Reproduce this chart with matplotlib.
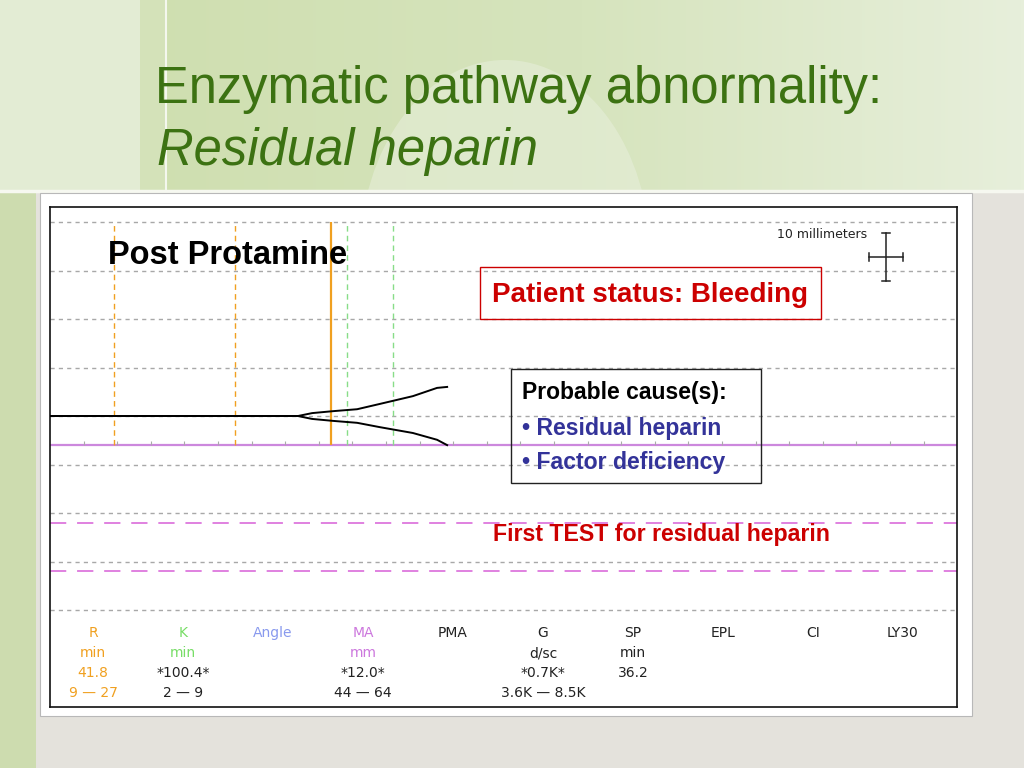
"""TEG tracing slide: residual heparin after protamine."""
import matplotlib
matplotlib.use('Agg')
import matplotlib.pyplot as plt
import matplotlib.patches as mpatches
from matplotlib.colors import LinearSegmentedColormap
import numpy as np

# ── data (time in min, amplitude in mm) ──────
TRACE_T     = [0.0, 36.9, 39.0, 42.1, 45.7, 49.1, 54.0, 57.6, 59.1]
TRACE_UPPER = [0.0, 0.0, 0.6, 1.0, 1.4, 2.5, 4.1, 5.8, 6.0]
TRACE_LOWER = [0.0, 0.0, -0.6, -1.0, -1.4, -2.3, -3.5, -4.9, -6.0]

R_VALUE   = 41.8
R_RANGE   = [9.5, 27.5]        # dashed orange markers
K_MARKS   = [44.2, 51.0]       # dashed green markers
MA_LINE   = -6.0               # solid violet line (MA / 2)
MA_RANGE  = [-22.0, -32.0]     # dashed pink (44-64 mm / 2)
GRID_MM   = [40, 30, 20, 10, 0, -10, -20, -30, -40]
TICK_MIN  = list(range(5, 135, 5))

PARAMS = ['R', 'K', 'Angle', 'MA', 'PMA', 'G', 'SP', 'EPL', 'CI', 'LY30']
UNITS  = ['min', 'min', '', 'mm', '', 'd/sc', 'min', '', '', '']
VALUES = ['41.8', '*100.4*', '', '*12.0*', '', '*0.7K*', '36.2', '', '', '']
RANGES = ['9 \u2014 27', '2 \u2014 9', '', '44 \u2014 64', '', '3.6K \u2014 8.5K', '', '', '', '']
PARAM_COLORS = ['#f0a020', '#77dd66', '#8899ee', '#cc77dd'] + ['#222222'] * 6
VALUE_COLORS = ['#f0a020'] + ['#222222'] * 9

# ── styles ────────────────────────────────────────────────────────
W, H = 1024, 768
GREEN_TITLE = '#3c7212'
RED = '#cc0000'
NAVY = '#333399'
SANS = ['Liberation Sans', 'DejaVu Sans']

fig = plt.figure(figsize=(W / 100, H / 100), dpi=100)

# background layer in pixel coordinates (y down)
bg = fig.add_axes([0, 0, 1, 1])
bg.set_xlim(0, W)
bg.set_ylim(H, 0)
bg.axis('off')

grad = np.linspace(0, 1, 256)[None, :]
bg.imshow(grad, extent=(140, W, 190, 0), aspect='auto', zorder=0,
          cmap=LinearSegmentedColormap.from_list('hdr', ['#cfdfb0', '#d6e4bd', '#e7efdb']))
bg.add_patch(mpatches.Ellipse((505, 255), 290, 390, color='#e8efdc', alpha=0.55, lw=0, zorder=1))
bg.add_patch(mpatches.Rectangle((0, 0), 140, 190, color='#e3ecd4', lw=0, zorder=1))
bg.add_patch(mpatches.Rectangle((140, 0), 26, 190, color='#d4e2b9', lw=0, zorder=1))
bg.plot([166, 166], [0, 190], color='#f4f7ee', lw=1.5, zorder=2)
bg.add_patch(mpatches.Rectangle((0, 190), W, H - 190, color='#e4e2dc', lw=0, zorder=1))
bg.add_patch(mpatches.Rectangle((0, 193), 36, H - 193, color='#cddcaf', lw=0, zorder=2))
bg.plot([0, W], [191, 191], color='#f6f8f0', lw=2.5, zorder=2)
bg.add_patch(mpatches.Rectangle((40, 193), 932, 523, facecolor='white',
                                edgecolor='#b8b8b8', lw=0.8, zorder=3))

bg.text(155, 90, 'Enzymatic pathway abnormality:', fontsize=36.5, color=GREEN_TITLE,
        family=SANS, ha='left', va='center', zorder=4)
bg.text(157, 152, 'Residual heparin', fontsize=36.5, color=GREEN_TITLE, style='italic',
        family=SANS, ha='left', va='center', zorder=4)

# ── TEG chart ─────────────────────────────────────────────────────
ax = fig.add_axes([50 / W, 1 - 707 / H, 907 / W, 500 / H])
ax.set_facecolor('white')
ax.set_xlim(0, 907 / 6.72)
ax.set_ylim(-60.0, 43.1)
ax.set_xticks([])
ax.set_yticks([])
for sp in ax.spines.values():
    sp.set_edgecolor('#111111')
    sp.set_linewidth(1.2)

for g in GRID_MM:
    ax.axhline(g, color='#a8a8a8', lw=1.0, ls=(0, (3, 3)), zorder=1)

for m in MA_RANGE:
    ax.axhline(m, color='#dd77dd', lw=1.3, ls=(0, (9, 6)), zorder=2)
ax.axhline(MA_LINE, color='#cc88dd', lw=1.6, zorder=2)
ax.vlines(TICK_MIN, MA_LINE, MA_LINE + 0.9, color='#aaaaaa', lw=0.8, zorder=2)

ax.vlines(R_RANGE, MA_LINE, 40, color='#f0a020', lw=1.0, ls=(0, (4, 3)), zorder=2)
ax.vlines(R_VALUE, MA_LINE, 40, color='#f0a020', lw=1.6, zorder=2)
ax.vlines(K_MARKS, MA_LINE, 40, color='#88dd88', lw=1.0, ls=(0, (4, 3)), zorder=2)

ax.plot(TRACE_T, TRACE_UPPER, color='black', lw=1.4, zorder=4)
ax.plot(TRACE_T, TRACE_LOWER, color='black', lw=1.4, zorder=4)

# 10 mm scale cross
cx, cy = 124.4, 32.8
ax.plot([cx, cx], [cy - 4.95, cy + 4.95], color='#222222', lw=1.1)
ax.plot([cx - 2.5, cx + 2.5], [cy, cy], color='#222222', lw=1.1)
for yy in (cy - 4.95, cy + 4.95):
    ax.plot([cx - 0.6, cx + 0.6], [yy, yy], color='#222222', lw=1.1)
for xx in (cx - 2.5, cx + 2.5):
    ax.plot([xx, xx], [cy - 0.9, cy + 0.9], color='#222222', lw=1.1)
ax.text(114.9, 37.5, '10 millimeters', fontsize=9, color='#222222',
        ha='center', va='center')

# parameter table
col_x = [6.4 + 13.39 * i for i in range(len(PARAMS))]
rows_y = [-44.7, -48.9, -53.0, -57.1]
for i, x in enumerate(col_x):
    ax.text(x, rows_y[0], PARAMS[i], color=PARAM_COLORS[i], fontsize=10, ha='center', va='center')
    ax.text(x, rows_y[1], UNITS[i], color=PARAM_COLORS[i], fontsize=10, ha='center', va='center')
    ax.text(x, rows_y[2], VALUES[i], color=VALUE_COLORS[i], fontsize=10, ha='center', va='center')
    ax.text(x, rows_y[3], RANGES[i], color=VALUE_COLORS[i], fontsize=10, ha='center', va='center')

# ── slide annotations (pixel positions, y down) ───────────────────
over = fig.add_axes([0, 0, 1, 1])
over.set_xlim(0, W)
over.set_ylim(H, 0)
over.axis('off')
over.patch.set_alpha(0)

over.text(108, 255, 'Post Protamine', fontsize=23.5, fontweight='bold', color='black',
          family=SANS, ha='left', va='center')
over.add_patch(mpatches.Rectangle((480, 267), 341, 52, fill=False, edgecolor=RED, lw=1.0))
over.text(650, 295, 'Patient status: Bleeding', fontsize=20, fontweight='bold', color=RED,
          family=SANS, ha='center', va='center')
over.add_patch(mpatches.Rectangle((511, 369), 250, 114, fill=False, edgecolor='#222222', lw=1.0))
over.text(522, 393, 'Probable cause(s):', fontsize=16.5, fontweight='bold', color='black',
          family=SANS, ha='left', va='center')
over.text(522, 428, '\u2022 Residual heparin', fontsize=16.6, fontweight='bold', color=NAVY,
          family=SANS, ha='left', va='center')
over.text(522, 462, '\u2022 Factor deficiency', fontsize=16.6, fontweight='bold', color=NAVY,
          family=SANS, ha='left', va='center')
over.text(661, 534, 'First TEST for residual heparin', fontsize=16.7, fontweight='bold', color=RED,
          family=SANS, ha='center', va='center')

fig.savefig('out.png', dpi=100)
plt.close(fig)
